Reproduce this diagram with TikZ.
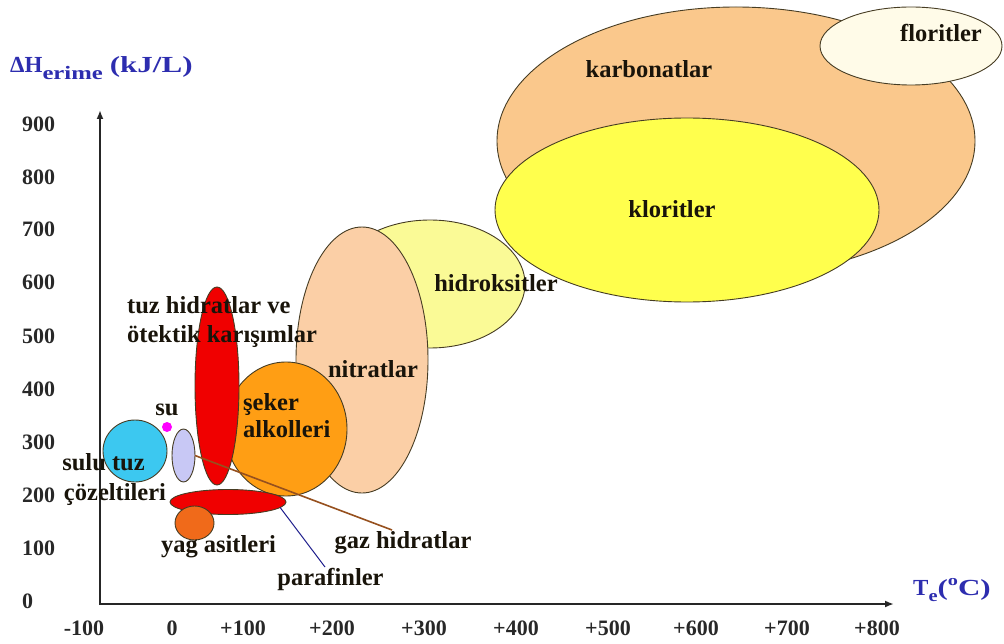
\documentclass[tikz,border=0pt]{standalone}
\usepackage{fontspec}
\setmainfont{Liberation Serif}
\usetikzlibrary{shapes.geometric,arrows.meta}
\definecolor{edge}{RGB}{70,60,35}
\definecolor{karbC}{RGB}{250,200,140}
\definecolor{florC}{RGB}{255,251,232}
\definecolor{klorC}{RGB}{255,255,77}
\definecolor{hidrC}{RGB}{250,250,150}
\definecolor{nitrC}{RGB}{251,207,166}
\definecolor{sekerC}{RGB}{255,158,20}
\definecolor{redC}{RGB}{240,0,0}
\definecolor{suluC}{RGB}{60,200,240}
\definecolor{gazC}{RGB}{200,200,245}
\definecolor{yagC}{RGB}{240,106,26}
\definecolor{suC}{RGB}{255,0,255}
\definecolor{axisblue}{RGB}{45,45,175}
\definecolor{txt}{RGB}{25,20,10}
\definecolor{ticktxt}{RGB}{40,40,40}
\definecolor{brownline}{RGB}{150,80,30}
\definecolor{navyline}{RGB}{30,30,140}
\begin{document}
\begin{tikzpicture}[x=1pt,y=-1pt,
  blob/.style={ellipse, draw=edge, line width=0.9pt, inner sep=0pt, outer sep=0pt},
  lbl/.style={inner sep=0pt, anchor=base, text=txt, font=\bfseries\fontsize{24.5}{28}\selectfont},
  lblw/.style={lbl, anchor=base west},
  tickl/.style={inner sep=0pt, text=ticktxt, font=\bfseries\fontsize{22}{24}\selectfont},
  axisline/.style={line width=2.3pt, draw=black!85},
  axislbl/.style={inner sep=0pt, text=axisblue, font=\bfseries\fontsize{23}{26}\selectfont}
]
\path[use as bounding box] (0,0) rectangle (1004,644);

% ellipses
\node[blob, fill=karbC, minimum width=478pt, minimum height=268pt] (karb) at (736,141) {};
\node[blob, fill=florC, minimum width=182pt, minimum height=78pt] (flor) at (911,46) {};
\node[blob, fill=klorC, minimum width=384pt, minimum height=184pt] (klor) at (687,210) {};
\node[blob, fill=hidrC, minimum width=190pt, minimum height=128pt] (hidr) at (430,284) {};
\node[blob, fill=nitrC, minimum width=132pt, minimum height=266pt] (nitr) at (362,360) {};
\node[blob, fill=sekerC, minimum width=122pt, minimum height=134pt] (seker) at (286,429) {};
\node[blob, fill=redC, minimum width=44pt, minimum height=198pt] (tuzh) at (217,386) {};
\node[blob, fill=suluC, minimum width=64pt, minimum height=62pt] (sulu) at (135,451) {};
\node[blob, fill=gazC, minimum width=23pt, minimum height=53pt] (gaz) at (183.5,455.5) {};
\node[ellipse, fill=suC, inner sep=0pt, minimum width=10pt, minimum height=10pt] (su) at (167,427) {};
\node[blob, fill=redC, minimum width=116pt, minimum height=25pt] (paraf) at (228,502) {};
\node[blob, fill=yagC, minimum width=39pt, minimum height=34pt] (yag) at (194.5,523) {};

% leader lines
\coordinate (gazend) at (392,530);
\coordinate (parend) at (325,567);
\draw[brownline, line width=1.6pt] (gaz.east) -- (gazend);
\draw[navyline, line width=1pt] (paraf.-6) -- (parend);

% axes
\coordinate (O) at (100,604);
\coordinate (ytip) at (100,110);
\coordinate (xtip) at (894,604);
\draw[axisline, -{Latex[length=9pt,width=7pt]}] (100,605.15) -- (ytip);
\draw[axisline, -{Latex[length=9pt,width=7pt]}] (O) -- (xtip);

% axis titles
\node[axislbl, anchor=base west] (ytitle) at (10,73) {ΔH\raisebox{-0.3em}{\scalebox{1.3}[1]{\fontsize{19}{20}\selectfont erime}}\hspace{7pt}\scalebox{1.35}[1]{(kJ/L)}};
\node[axislbl, anchor=base west] (xtitle) at (913,595) {T\raisebox{-0.3em}{\scalebox{1.2}[1]{\fontsize{17}{18}\selectfont e}}\scalebox{1.35}[1]{(\raisebox{0.42em}{\fontsize{15}{18}\selectfont o}C)}};

% y tick labels
\foreach \v/\yy in {900/132,800/185,700/237,600/290,500/343,400/396,300/449,200/502,100/555,0/608}
  \node[tickl, anchor=base west] (yt\v) at (22,\yy) {\v};
% x tick labels
\foreach \t/\xx in {-100/84,0/172,+100/243,+200/332,+300/424,+400/516,+500/608,+600/696,+700/787,+800/877}
  \node[tickl, anchor=base] (xt\xx) at (\xx,635) {\t};

% labels
\node[lbl] (lkarb) at (649,78) {karbonatlar};
\node[lbl] (lflor) at (941,42) {floritler};
\node[lbl] (lklor) at (672,218) {kloritler};
\node[lbl] (lhidr) at (496,292) {hidroksitler};
\node[lbl] (lnitr) at (373,377) {nitratlar};
\node[lblw] (lsek1) at (243,410) {şeker};
\node[lblw] (lsek2) at (243,437) {alkolleri};
\node[lblw] (ltuz1) at (127,313) {tuz hidratlar ve};
\node[lblw] (ltuz2) at (127,342) {ötektik karışımlar};
\node[lbl] (lsu) at (167,415) {su};
\node[lbl] (lsulu1) at (103.5,470) {sulu tuz};
\node[lbl] (lsulu2) at (115,500) {çözeltileri};
\node[lbl] (lyag) at (218.5,552) {yag asitleri};
\node[lbl] (lgaz) at (403,548) {gaz hidratlar};
\node[lbl] (lparaf) at (330.5,585) {parafinler};
\end{tikzpicture}
\end{document}
